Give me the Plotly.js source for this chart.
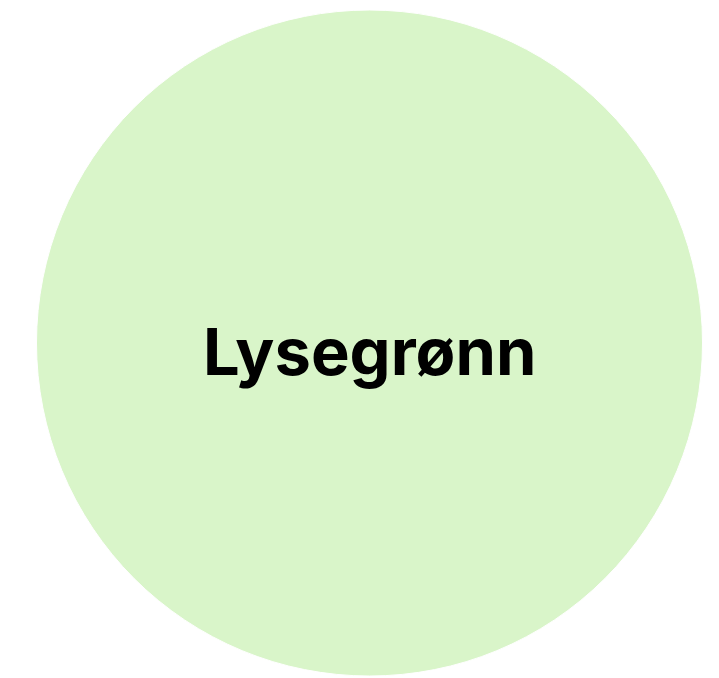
<!DOCTYPE html>
<html>
<head>
<meta charset="utf-8">
<script src="https://cdn.plot.ly/plotly-3.0.1.min.js"></script>
<style>html,body{margin:0;padding:0;background:#fff;}#chart{width:719px;height:678px;}</style>
</head>
<body>
<div id="chart"></div>
<script>
const labels = ["Lysegrønn"];
const values = [1];
const colors = ["#d9f5c9"];

Plotly.newPlot("chart", [{
  type: "pie",
  labels: labels,
  values: values,
  marker: {colors: colors, line: {color: "#ffffff", width: 1}},
  textinfo: "none",
  hoverinfo: "label",
  sort: false
}], {
  width: 719,
  height: 678,
  margin: {l: 30, r: 10, t: 10, b: 2},
  showlegend: false,
  paper_bgcolor: "#ffffff",
  annotations: [{
    text: labels[0],
    xref: "paper", yref: "paper",
    x: 0.5, y: 0.5,
    xanchor: "center", yanchor: "middle",
    yshift: -8,
    showarrow: false,
    font: {family: "Inter", size: 65, color: "#000000", weight: "bold"}
  }]
}, {displayModeBar: false, staticPlot: true});
</script>
</body>
</html>
